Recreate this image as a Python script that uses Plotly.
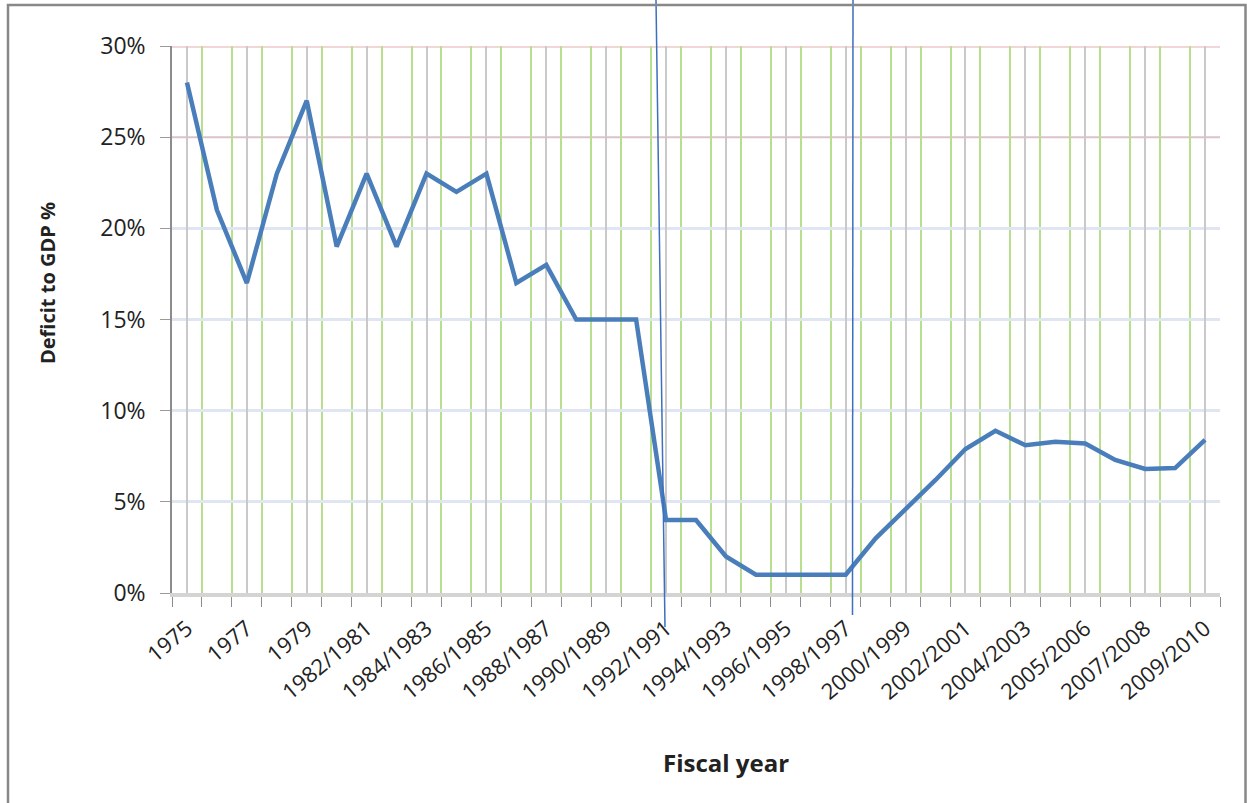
import plotly.graph_objects as go

# Fiscal years (categories) and the deficit-to-GDP ratio for each, in percent
fiscal_years = [
    "1975", "1976", "1977", "1978", "1979", "1981/1980", "1982/1981",
    "1983/1982", "1984/1983", "1985/1984", "1986/1985", "1987/1986",
    "1988/1987", "1989/1988", "1990/1989", "1991/1990", "1992/1991",
    "1993/1992", "1994/1993", "1995/1994", "1996/1995", "1997/1996",
    "1998/1997", "1999/1998", "2000/1999", "2001/2000", "2002/2001",
    "2003/2002", "2004/2003", "2005/2004", "2005/2006", "2006/2007",
    "2007/2008", "2008/2009", "2009/2010",
]
deficit_pct = [
    28, 21, 17, 23, 27, 19, 23,
    19, 23, 22, 23, 17,
    18, 15, 15, 15, 4,
    4, 2, 1, 1, 1,
    1, 3, 4.6, 6.2, 7.9,
    8.9, 8.1, 8.3, 8.2, 7.3,
    6.8, 6.85, 8.4,
]
y_ticks = [0, 5, 10, 15, 20, 25, 30]
y_tick_text = [f"{v}%" for v in y_ticks]
blue_grid_vals = [5, 10, 15, 20]
pink_grid_vals = [25, 30]

W, H = 1247, 803
ML, MR, MT, MB = 172, 27, 46, 210
PW, PH = W - ML - MR, H - MT - MB

def px_x(px):
    return (px - ML) / PW

def px_y(py):
    return (H - MB - py) / PH

idx = list(range(len(fiscal_years)))
bounds = [i - 0.5 for i in range(len(fiscal_years) + 1)]

fig = go.Figure()
fig.add_trace(go.Scatter(
    x=idx, y=deficit_pct, mode="lines",
    line=dict(color="#4a7ebb", width=4.5),
    customdata=fiscal_years,
    hovertemplate="%{customdata}: %{y}%<extra></extra>",
    showlegend=False,
))

font_main = "Open Sans, DejaVu Sans, sans-serif"

fig.update_layout(
    width=W, height=H,
    margin=dict(l=ML, r=MR, t=MT, b=MB),
    paper_bgcolor="white", plot_bgcolor="white",
    font=dict(family=font_main, color="#222222"),
    xaxis=dict(
        range=[-0.5, len(fiscal_years) - 0.5],
        tickmode="array", tickvals=idx[::2], ticktext=fiscal_years[::2],
        tickangle=-40, tickfont=dict(size=22, color="#222222"),
        ticks="outside", ticklen=10, tickcolor="rgba(0,0,0,0)",
        showgrid=True, gridcolor="#c9c9c9", gridwidth=1.5,
        showline=True, linecolor="#d4d4d4", linewidth=4,
        zeroline=False,
        minor=dict(
            tickmode="array", tickvals=bounds,
            ticks="outside", ticklen=10, tickcolor="#8c8c8c", tickwidth=1,
            showgrid=True, gridcolor="#b7df8e", gridwidth=1.5,
        ),
    ),
    yaxis=dict(
        range=[0, 30],
        tickmode="array", tickvals=y_ticks, ticktext=y_tick_text,
        tickfont=dict(size=23, color="#222222"),
        ticks="outside", ticklen=10, tickcolor="#9a9a9a",
        ticklabelstandoff=10,
        showgrid=False,
        showline=True, linecolor="#8c8c8c", linewidth=1.5,
        zeroline=False,
        minor=dict(
            tickmode="array", tickvals=blue_grid_vals, ticks="",
            showgrid=True, gridcolor="#dfe5f1", gridwidth=2.5,
        ),
    ),
)

# Pink gridlines at the two top levels
for v, col, w in zip(pink_grid_vals, ["#dcc3cb", "#f3d6d8"], [2, 4]):
    fig.add_shape(type="line", xref="paper", yref="y", x0=0, x1=1, y0=v, y1=v,
                  line=dict(color=col, width=w), layer="below")

# Vertical period markers
fig.add_shape(type="line", xref="paper", yref="paper",
              x0=px_x(656), y0=px_y(0), x1=px_x(665), y1=px_y(627),
              line=dict(color="#3d6fbf", width=1.5))
fig.add_shape(type="line", xref="paper", yref="paper",
              x0=px_x(853), y0=px_y(0), x1=px_x(852.5), y1=px_y(615),
              line=dict(color="#3d6fbf", width=1.5))

# Chart frame
fig.add_shape(type="rect", xref="paper", yref="paper",
              x0=px_x(8), y0=px_y(812), x1=px_x(1245.5), y1=px_y(5),
              line=dict(color="#888888", width=2.5), fillcolor="rgba(0,0,0,0)")

# Axis titles
fig.add_annotation(text="<b>Deficit to GDP %</b>", xref="paper", yref="paper",
                   x=px_x(47), y=px_y(283), xanchor="center", yanchor="middle",
                   textangle=-90, showarrow=False,
                   font=dict(size=20, color="#222222", family=font_main))
fig.add_annotation(text="<b>Fiscal year</b>", xref="paper", yref="paper",
                   x=px_x(726), y=px_y(762), xanchor="center", yanchor="middle",
                   showarrow=False,
                   font=dict(size=24, color="#222222", family=font_main))

fig.write_html("out.html")
